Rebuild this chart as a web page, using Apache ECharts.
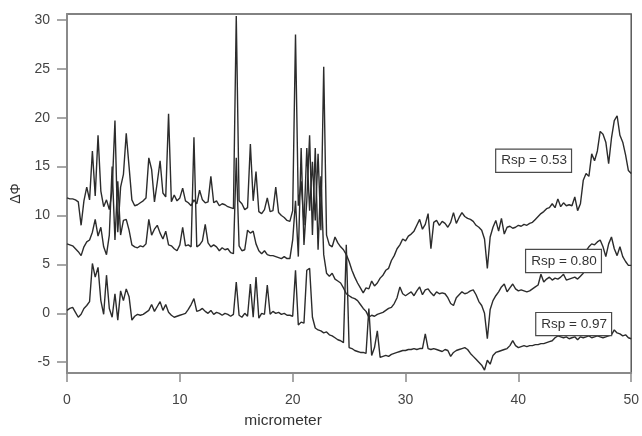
<!DOCTYPE html>
<html>
<head>
<meta charset="utf-8">
<script src="https://cdn.jsdelivr.net/npm/echarts@6/dist/echarts.min.js"></script>
<style>
  html, body { margin: 0; padding: 0; background: #fff; }
  #chart { width: 642px; height: 436px; }
</style>
</head>
<body>
<div id="chart"></div>
<script>
// Phase-difference profiles along the scan, sampled every 0.25 micrometer (0 .. 50).
const STEP = 0.25;

const rsp053 = [
  // 0 - 4.75
  11.8, 11.7, 11.7, 11.6, 11.4, 9.0, 11.5, 12.9, 11.6, 16.6, 12.0, 18.2, 12.5, 10.9, 11.6, 10.6, 12.6, 19.7, 8.3, 12.9,
  // 5 - 9.75
  14.2, 18.4, 15.0, 11.6, 11.0, 11.1, 11.3, 11.5, 11.8, 15.9, 14.7, 11.4, 13.4, 15.6, 12.3, 11.9, 20.4, 11.4, 12.1, 11.5,
  // 10 - 14.75
  11.8, 12.8, 11.5, 11.3, 11.0, 11.6, 11.2, 12.6, 11.6, 11.3, 11.4, 14.0, 11.3, 11.5, 11.0, 11.2, 11.1, 10.9, 10.8, 10.7,
  // 15 - 19.75
  30.4, 11.5, 11.2, 10.6, 10.8, 17.3, 11.5, 14.5, 10.4, 10.2, 10.6, 11.8, 10.4, 10.5, 12.9, 10.3, 10.0, 9.8, 9.5, 9.4,
  // 20 - 24.75
  10.5, 28.5, 11.0, 13.5, 9.0, 16.9, 10.5, 15.5, 9.5, 16.3, 8.5, 25.2, 8.0, 7.0, 6.8, 7.8, 7.2, 6.8, 6.5, 6.0,
  // 25 - 29.75
  5.3, 4.4, 3.7, 3.1, 2.6, 2.1, 2.6, 2.5, 3.3, 2.8, 3.1, 3.6, 3.9, 4.4, 4.6, 5.4, 5.9, 6.6, 7.0, 7.6,
  // 30 - 34.75
  7.4, 7.9, 8.1, 8.4, 9.0, 9.6, 8.6, 9.1, 10.2, 6.6, 9.3, 9.5, 9.0, 9.4, 9.2, 8.8, 9.3, 10.3, 9.2, 9.8,
  // 35 - 39.75
  10.3, 9.9, 9.7, 9.6, 9.4, 9.0, 8.8, 8.5, 7.6, 4.6, 7.8, 8.8, 9.5, 8.4, 9.7, 8.1, 8.8, 8.9, 8.7, 8.8,
  // 40 - 44.75
  9.0, 8.9, 9.1, 9.0, 9.2, 9.3, 9.6, 9.9, 10.2, 10.4, 10.7, 10.8, 11.2, 10.8, 11.7, 10.9, 11.3, 11.0, 11.1, 11.0,
  // 45 - 50
  11.9, 10.5, 11.2, 13.6, 14.3, 14.0, 16.3, 15.6, 16.6, 18.6, 18.3, 17.5, 15.3, 17.9, 19.7, 20.2, 18.2, 17.5, 16.2, 14.6,
  14.3
];

const rsp080 = [
  // 0 - 4.75
  7.1, 7.0, 6.9, 6.6, 6.3, 5.9, 6.8, 7.3, 7.5, 8.3, 9.6, 7.9, 8.8, 6.8, 6.0, 8.0, 15.0, 7.5, 13.5, 8.0,
  // 5 - 9.75
  9.5, 9.6, 8.5, 7.0, 6.8, 6.7, 6.9, 6.8, 7.1, 9.6, 8.0, 8.6, 9.0, 8.2, 7.6, 8.4, 7.0, 6.9, 6.6, 6.4,
  // 10 - 14.75
  7.0, 8.8, 6.9, 7.0, 6.8, 18.0, 6.8, 7.0, 7.4, 9.1, 7.2, 6.8, 7.0, 6.8, 6.4, 6.7, 6.5, 6.6, 6.2, 6.1,
  // 15 - 19.75
  15.9, 6.9, 6.4, 6.5, 8.5, 8.2, 8.4, 7.1, 6.4, 6.1, 6.4, 6.0, 5.9, 5.9, 5.8, 5.7, 5.6, 5.8, 5.6, 5.6,
  // 20 - 24.75
  7.5, 11.5, 5.8, 16.9, 7.0, 11.5, 18.2, 8.0, 16.9, 6.5, 14.0, 6.0, 4.1, 3.8, 4.1, 3.5, 3.3, 3.1, 2.6, 2.0,
  // 25 - 29.75
  1.8, 1.6, 1.5, 1.3, 0.9, 0.5, 0.2, -0.4, -0.2, -0.3, -0.1, 0.0, 0.1, 0.3, 0.5, 0.6, 1.0, 1.6, 2.7, 2.0,
  // 30 - 34.75
  1.8, 2.0, 2.2, 1.8, 2.3, 2.7, 1.9, 2.4, 2.5, 2.1, 1.8, 2.2, 2.0, 2.1, 2.0, 1.6, 1.0, 0.8, 1.6, 1.9,
  // 35 - 39.75
  2.2, 2.0, 2.1, 2.3, 2.4, 1.9, 1.2, 0.8, 0.0, -2.6, 0.4, 1.3, 1.8, 2.2, 2.7, 3.0, 2.2, 2.6, 3.0, 2.5,
  // 40 - 44.75
  2.3, 2.4, 2.3, 2.2, 2.3, 2.5, 2.7, 2.9, 4.0, 3.2, 3.5, 3.7, 3.4, 3.6, 3.5, 3.7, 4.0, 3.4, 3.5, 3.6,
  // 45 - 50
  3.7, 3.5, 3.8, 4.1, 6.4, 6.8, 7.1, 7.0, 7.3, 7.5, 6.8, 5.8, 7.1, 7.8, 6.6, 5.9, 6.8, 5.8, 5.3, 4.9,
  4.9
];

const rsp097 = [
  // 0 - 4.75
  0.3, 0.5, 0.6, 0.1, -0.4, -0.1, 0.5, 0.8, 1.2, 5.1, 3.7, 4.7, 1.3, -0.1, 3.9, 0.5, -0.4, 2.0, -0.7, 2.3,
  // 5 - 9.75
  1.3, 2.5, 1.7, -0.7, -0.3, -0.1, -0.2, -0.1, 0.1, 0.3, 0.9, 0.2, 0.7, 1.2, 0.3, 0.9, 0.1, -0.2, -0.4, -0.3,
  // 10 - 14.75
  -0.2, -0.1, 0.0, 0.4, 0.9, 1.5, 0.2, 0.3, 0.5, 0.2, 0.0, 0.3, -0.1, 0.1, 0.0, -0.2, 0.0, -0.1, -0.3, -0.1,
  // 15 - 19.75
  3.2, -0.2, -0.4, 0.0, -0.3, 3.0, -0.4, 3.7, -0.5, 0.0, -0.1, 2.9, -0.1, 0.2, 0.0, 0.1, -0.1, 0.0, -0.2, -0.2,
  // 20 - 24.75
  -0.3, 4.4, -1.2, -0.9, -1.0, 4.4, 4.6, -0.4, -1.5, -1.7, -1.8, -2.0, -1.9, -2.2, -2.3, -2.5, -2.7, -2.8, -3.0, 7.0,
  // 25 - 29.75
  -3.5, -3.6, -3.8, -3.9, -4.0, -4.0, -4.1, 0.5, -4.3, -3.5, -1.8, -4.5, -4.4, -4.3, -4.4, -4.2, -4.1, -4.0, -3.9, -3.8,
  // 30 - 34.75
  -3.8, -3.7, -3.7, -3.6, -3.7, -3.6, -3.6, -2.1, -3.6, -3.7, -3.6, -3.7, -3.8, -3.9, -3.7, -3.8, -4.4, -4.0, -3.8, -3.7,
  // 35 - 39.75
  -3.6, -3.5, -3.7, -4.1, -4.4, -4.7, -5.0, -5.3, -5.8, -4.8, -5.2, -4.3, -4.0, -3.9, -3.8, -3.7, -3.6, -3.3, -2.8, -3.3,
  // 40 - 44.75
  -3.5, -3.4, -3.3, -3.4, -3.3, -3.3, -3.2, -3.2, -3.1, -3.1, -3.0, -2.9, -2.8, -2.5, -2.3, -2.4, -2.5, -2.4, -2.6, -2.5,
  // 45 - 50
  -2.4, -2.7, -2.4, -2.5, -2.4, -2.3, -2.5, -2.4, -2.3, -2.4, -2.5, -2.4, -2.3, -2.2, -1.7, -2.0, -2.1, -2.3, -2.2, -2.5,
  -2.6
];

const seriesNames = ['Rsp = 0.53', 'Rsp = 0.80', 'Rsp = 0.97'];
// Where each annotation box sits, in data units [micrometer, ΔΦ]
const tagAt = [[41.35, 15.6], [44.0, 5.35], [44.9, -1.1]];

const yTicks = [-5, 0, 5, 10, 15, 20, 25, 30];
const xTicks = [0, 10, 20, 30, 40, 50];

const FONT = '"Liberation Sans", Arial, Helvetica, sans-serif';
const INK = '#2c2c2c';

function toPairs(arr) {
  return arr.map((v, i) => [i * STEP, v]);
}

function makeSeries(name, arr, tag) {
  return {
    name: name,
    type: 'line',
    data: toPairs(arr),
    showSymbol: false,
    symbol: 'none',
    animation: false,
    lineStyle: { color: INK, width: 1.4 },
    markPoint: {
      z: 10,
      symbol: 'circle',
      symbolSize: 0,
      itemStyle: { color: 'transparent' },
      label: {
        show: true,
        position: 'inside',
        formatter: name,
        color: '#333',
        fontFamily: FONT,
        fontSize: 13.5,
        lineHeight: 15,
        backgroundColor: '#fff',
        borderColor: '#4a4a4a',
        borderWidth: 1.2,
        padding: [4, 4, 3, 5]
      },
      data: [{ coord: tag }],
      animation: false
    }
  };
}

const chart = echarts.init(document.getElementById('chart'), null, { renderer: 'canvas' });

chart.setOption({
  backgroundColor: '#fff',
  animation: false,
  grid: {
    left: 67, right: 9, top: 14, bottom: 63,
    show: true,
    borderColor: '#5a5a5a',
    borderWidth: 1.5,
    backgroundColor: 'transparent'
  },
  xAxis: {
    type: 'value',
    min: 0, max: 50, interval: 10,
    name: 'micrometer',
    nameLocation: 'middle',
    nameGap: 40,
    nameTextStyle: { fontFamily: FONT, fontSize: 15.5, color: '#333', padding: [0, 132, 0, 0] },
    axisLine: { show: true, onZero: false, lineStyle: { color: '#8a8a8a', width: 2 } },
    axisTick: { show: true, length: 9, lineStyle: { color: '#8a8a8a', width: 1.5 }, customValues: xTicks },
    axisLabel: { margin: 20, fontFamily: FONT, fontSize: 14, color: '#444', customValues: xTicks },
    splitLine: { show: false }
  },
  yAxis: {
    type: 'value',
    min: -6.1, max: 30.6,
    name: 'ΔΦ',
    nameLocation: 'middle',
    nameGap: 43,
    nameRotate: 90,
    nameTextStyle: { fontFamily: FONT, fontSize: 14, color: '#333' },
    axisLine: { show: true, onZero: false, lineStyle: { color: '#8a8a8a', width: 2 } },
    axisTick: { show: true, length: 10, lineStyle: { color: '#8a8a8a', width: 1.5 }, customValues: yTicks },
    axisLabel: { margin: 17, fontFamily: FONT, fontSize: 14, color: '#444', customValues: yTicks },
    splitLine: { show: false }
  },
  series: [
    makeSeries(seriesNames[0], rsp053, tagAt[0]),
    makeSeries(seriesNames[1], rsp080, tagAt[1]),
    makeSeries(seriesNames[2], rsp097, tagAt[2])
  ]
});
</script>
</body>
</html>
